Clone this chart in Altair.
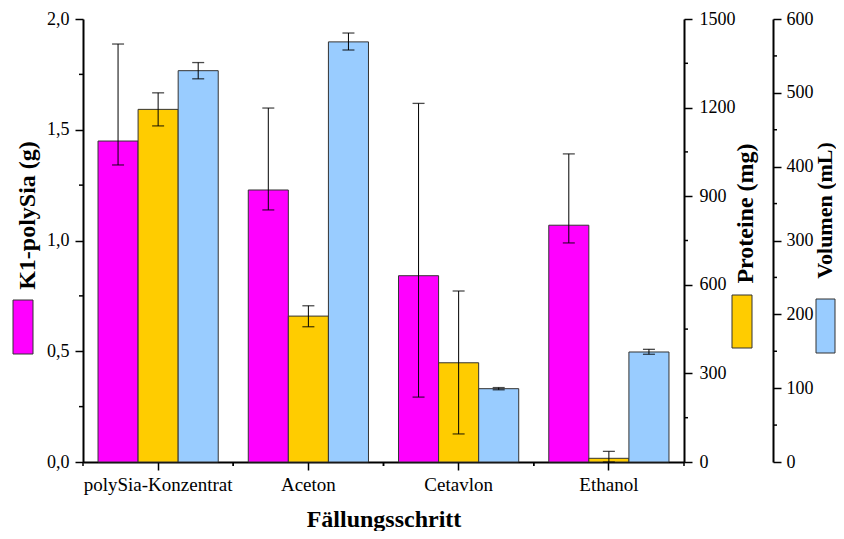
import altair as alt
import pandas as pd

categories = ["polySia-Konzentrat", "Aceton", "Cetavlon", "Ethanol"]
series = ["K1-polySia", "Proteine", "Volumen"]
colors = ["#FF00FF", "#FFCC00", "#99CCFF"]

polysia_g = [1.449, 1.228, 0.841, 1.069]
polysia_lo = [1.341, 1.138, 0.293, 0.989]
polysia_hi = [1.887, 1.598, 1.619, 1.391]

protein_mg = [1194, 494, 336, 12.5]
protein_lo = [1138, 458, 95, 0]
protein_hi = [1250, 529, 579, 36]

volume_ml = [530, 569, 99.3, 149]
volume_lo = [519, 558, 97.8, 145.9]
volume_hi = [541, 581, 100.8, 152.6]

left_ticks = [0, 0.5, 1.0, 1.5, 2.0]
left_minor = [0.25, 0.75, 1.25, 1.75]
prot_ticks = [0, 300, 600, 900, 1200, 1500]
prot_minor = [150, 450, 750, 1050, 1350]
vol_ticks = [0, 100, 200, 300, 400, 500, 600]
vol_minor = [50, 150, 250, 350, 450, 550]

W, H = 601, 443
FONT = "Liberation Serif"
VOL_OFFSET = 89

xscale = alt.Scale(domain=categories, paddingInner=0, paddingOuter=0)
xaxis = alt.Axis(title="Fällungsschritt", labelAngle=0, labelFontSize=19,
                 titleFontSize=24, titleFontWeight="bold", tickSize=8,
                 domainWidth=2, tickWidth=1.5, labelPadding=5,
                 titleY=57, titleBaseline="middle")
xo = alt.XOffset("series:N", scale=alt.Scale(domain=series, paddingInner=0, paddingOuter=0.375))
X = alt.X("cat:N", sort=categories, scale=xscale, axis=xaxis)


def make_df(name, vals, lo, hi):
    return pd.DataFrame({"cat": categories, "series": name, "value": vals, "lo": lo, "hi": hi})


def series_layer(df, color, yscale, yaxis, minor_vals, minor_x0, minor_x1):
    base = alt.Chart(df)
    Y = lambda f: alt.Y(f, scale=yscale, axis=yaxis)
    bars = base.mark_bar(color=color, stroke="#333333", strokeWidth=1).encode(
        x=X, xOffset=xo, y=Y("value:Q"))
    rule = base.mark_rule(color="black", strokeWidth=1).encode(
        x=X, xOffset=xo, y=Y("lo:Q"), y2="hi:Q")
    cap_hi = base.mark_tick(color="black", size=12, thickness=1.3).encode(
        x=X, xOffset=xo, y=Y("hi:Q"))
    cap_lo = base.mark_tick(color="black", size=12, thickness=1.3).encode(
        x=X, xOffset=xo, y=Y("lo:Q"))
    minor = alt.Chart(pd.DataFrame({"value": minor_vals})).mark_rule(
        color="black", strokeWidth=1.5).encode(
        y=Y("value:Q"), x=alt.value(minor_x0), x2=alt.value(minor_x1))
    return alt.layer(bars, rule, cap_hi, cap_lo, minor)


df_p = make_df(series[0], polysia_g, polysia_lo, polysia_hi)
df_r = make_df(series[1], protein_mg, protein_lo, protein_hi)
df_v = make_df(series[2], volume_ml, volume_lo, volume_hi)

common_axis = dict(grid=False, tickSize=8, tickWidth=1.5, domainWidth=2,
                   labelFontSize=18, titleFontWeight="bold",
                   titleAngle=270, titleAlign="center", titleBaseline="middle")

left_axis = alt.Axis(orient="left", values=left_ticks, title="K1-polySia (g)",
                     labelExpr="replace(format(datum.value, '.1f'), '.', ',')",
                     labelPadding=6, titleX=-56, titleY=196, titleFontSize=24, **common_axis)
prot_axis = alt.Axis(orient="right", values=prot_ticks, title="Proteine (mg)", format="d",
                     labelPadding=7, titleX=61, titleY=194, titleFontSize=24, **common_axis)
vol_axis = alt.Axis(orient="right", values=vol_ticks, title="Volumen (mL)", format="d",
                    offset=VOL_OFFSET, labelPadding=5, titleX=51, titleY=191,
                    titleFontSize=22, **common_axis)

mag = series_layer(df_p, colors[0], alt.Scale(domain=[0, 2], nice=False), left_axis,
                   left_minor, -4, 0)
gold = series_layer(df_r, colors[1], alt.Scale(domain=[0, 1500], nice=False), prot_axis,
                    prot_minor, W, W + 4)
blue = series_layer(df_v, colors[2], alt.Scale(domain=[0, 600], nice=False), vol_axis,
                    vol_minor, W + VOL_OFFSET, W + VOL_OFFSET + 4)

# minor x ticks at category boundaries
cat_df = pd.DataFrame({"cat": categories})
xminor0 = alt.Chart(cat_df).mark_rule(color="black", strokeWidth=1.5).encode(
    x=alt.X("cat:N", sort=categories, scale=xscale, axis=xaxis, bandPosition=0),
    y=alt.value(H), y2=alt.value(H + 4))
xminor1 = alt.Chart(cat_df).mark_rule(color="black", strokeWidth=1.5).encode(
    x=alt.X("cat:N", sort=categories, scale=xscale, axis=xaxis, bandPosition=1),
    y=alt.value(H), y2=alt.value(H + 4))

# legend swatches next to the axis titles
sw_df = pd.DataFrame({"series": series})
sw_pos = [(-70, -50, 281, 335), (649, 669, 276, 329), (733, 752, 280, 334)]
swatches = []
for s, c, (x0, x1, y0, y1) in zip(series, colors, sw_pos):
    swatches.append(
        alt.Chart(sw_df[sw_df.series == s]).mark_rect(color=c, stroke="#333333", strokeWidth=1).encode(
            x=alt.value(x0), x2=alt.value(x1), y=alt.value(y0), y2=alt.value(y1)))

chart = alt.layer(
    alt.layer(mag, xminor0, xminor1), gold, blue, *swatches
).resolve_scale(y="independent").properties(
    width=W, height=H,
    autosize=alt.AutoSizeParams(type="none"),
    padding={"left": 75, "top": 11, "right": 152, "bottom": 69},
).configure_axis(
    labelFont=FONT, titleFont=FONT, labelColor="black", titleColor="black",
    domainColor="black", tickColor="black", grid=False
).configure_view(stroke=None)

chart.save("out.html", embed_options={"renderer": "svg", "actions": False})
